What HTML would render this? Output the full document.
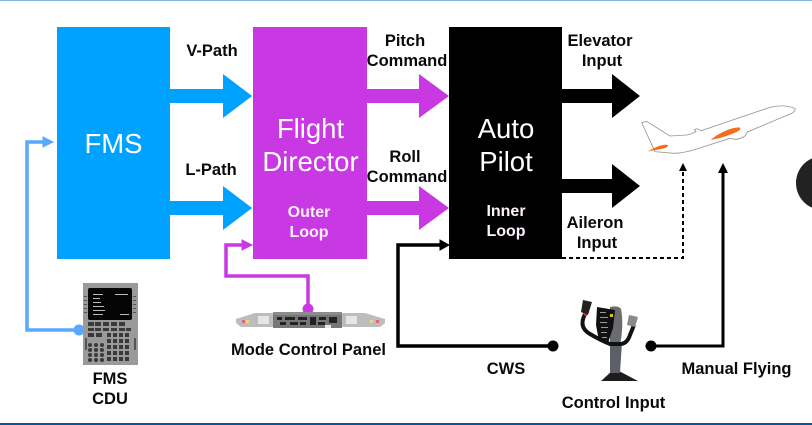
<!DOCTYPE html>
<html><head><meta charset="utf-8"><style>
html,body{margin:0;padding:0;background:#fff;width:812px;height:425px;overflow:hidden}
svg{display:block}
text{font-family:"Liberation Sans",sans-serif}
.b{font-weight:700;font-size:16.5px;fill:#0a0a0a;text-anchor:middle}
.w{font-weight:700;font-size:16px;fill:#fdf3fd;text-anchor:middle}
.t{font-size:27.500px;fill:#fff;text-anchor:middle}
</style></head><body>
<svg width="812" height="425" viewBox="0 0 812 425" xmlns="http://www.w3.org/2000/svg">
<rect width="812" height="425" fill="#fff"/>
<rect x="0" y="0" width="812" height="1" fill="#7fb6e2"/>
<rect x="0" y="423" width="812" height="2" fill="#0059a0"/>
<circle cx="823" cy="183" r="27" fill="#222"/>

<!-- boxes -->
<rect x="57" y="27" width="113" height="232" fill="#00a2ff"/>
<rect x="253" y="27" width="114" height="232" fill="#c939e3"/>
<rect x="449" y="27" width="113" height="232" fill="#000"/>

<!-- big arrows -->
<path d="M170 89H223V74L252 96L223 118V103H170Z" fill="#00a2ff"/>
<path d="M170 201H223V186L252 208L223 230V215H170Z" fill="#00a2ff"/>
<path d="M367 89H419V74L449 96L419 118V103H367Z" fill="#c939e3"/>
<path d="M367 201H419V186L449 208L419 230V215H367Z" fill="#c939e3"/>
<path d="M562 89H612V74L640 96L612 118V103H562Z" fill="#000"/>
<path d="M562 179H612V164L640 186L612 208V193H562Z" fill="#000"/>

<!-- connectors -->
<path d="M79 330H27V142H45" fill="none" stroke="#5aa9ff" stroke-width="3.5"/>
<path d="M43 137L53 142L43 147Z" fill="#5aa9ff" stroke="#5aa9ff"/>
<circle cx="79" cy="330" r="5.5" fill="#5aa9ff"/>
<path d="M308 308V276H226V245H244" fill="none" stroke="#c939e3" stroke-width="3.5"/>
<path d="M242 240L252 245L242 250Z" fill="#c939e3" stroke="#c939e3"/>
<circle cx="308" cy="309" r="5.5" fill="#c939e3"/>
<path d="M553 346H398V245H440" fill="none" stroke="#000" stroke-width="3.5"/>
<path d="M440 240L449 245L440 250Z" fill="#000" stroke="#000"/>
<circle cx="553" cy="346" r="5.5" fill="#000"/>
<path d="M651 346H723V172" fill="none" stroke="#000" stroke-width="3"/>
<path d="M718 173L723 163L728 173Z" fill="#000"/>
<circle cx="651" cy="346" r="5.5" fill="#000"/>
<path d="M562 258H683V170" fill="none" stroke="#000" stroke-width="2" stroke-dasharray="4 3"/>
<path d="M679 171L683 163L687 171Z" fill="#000"/>

<!-- plane -->
<g transform="translate(540 80) scale(.3333)">
<path d="M305 128L320 124L390 168L440 165Q456 162 468 155L463 149L470 146L484 152L690 82Q730 72 765 85Q768 92 755 100L622 156L615 168Q600 178 585 178L570 175L470 207Q430 220 400 220L345 215Z" fill="#fff" stroke="#959595" stroke-width="2.500"/>
<path d="M512 180C535 160 570 143 597 142C606 145 600 152 585 158C565 167 540 175 512 180Z" fill="#f46d1b"/>
<path d="M323 215L345 203C360 196 378 192 384 196C384 204 362 208 345 210Z" fill="#f46d1b"/>
</g>

<!-- FMS CDU -->
<rect x="83" y="283" width="55" height="82" fill="#9a9a9a"/>
<rect x="88" y="288" width="44" height="32" rx="2" fill="#050505"/>
<g fill="#bbb"><rect x="93" y="294" width="10" height="1"/><rect x="115" y="294" width="13" height="1"/><rect x="93" y="298" width="7" height="1"/><rect x="93" y="302" width="8" height="1"/><rect x="93" y="306" width="11" height="1"/><rect x="93" y="310" width="12" height="1"/><rect x="93" y="314" width="10" height="1"/><rect x="120" y="314" width="9" height="1"/></g>
<g fill="#555">
<rect x="84" y="296" width="3" height="1"/><rect x="84" y="300" width="3" height="1"/><rect x="84" y="304" width="3" height="1"/><rect x="84" y="308" width="3" height="1"/><rect x="84" y="312" width="3" height="1"/>
<rect x="133" y="296" width="3" height="1"/><rect x="133" y="300" width="3" height="1"/><rect x="133" y="304" width="3" height="1"/><rect x="133" y="308" width="3" height="1"/><rect x="133" y="312" width="3" height="1"/>
<rect x="85" y="338" width="2" height="12"/><rect x="134" y="338" width="2" height="12"/>
</g>
<g fill="#3a3a3a">
<rect x="88" y="322" width="6" height="4"/><rect x="95" y="322" width="6" height="4"/><rect x="103" y="322" width="6" height="4"/><rect x="111" y="322" width="6" height="4"/><rect x="119" y="322" width="6" height="4"/>
<rect x="88" y="328" width="6" height="3"/><rect x="95" y="328" width="6" height="3"/><rect x="103" y="328" width="6" height="3"/><rect x="111" y="328" width="6" height="3"/><rect x="119" y="328" width="6" height="3"/><rect x="126" y="328" width="5" height="3"/>
<rect x="88" y="333" width="6" height="4"/><rect x="96" y="333" width="6" height="4"/>
<rect x="107" y="333" width="4" height="4"/><rect x="113" y="333" width="4" height="4"/><rect x="119" y="333" width="4" height="4"/><rect x="125" y="333" width="4" height="4"/>
<rect x="107" y="339" width="4" height="4"/><rect x="113" y="339" width="4" height="4"/><rect x="119" y="339" width="4" height="4"/><rect x="125" y="339" width="4" height="4"/>
<rect x="107" y="345" width="4" height="4"/><rect x="113" y="345" width="4" height="4"/><rect x="119" y="345" width="4" height="4"/><rect x="125" y="345" width="4" height="4"/>
<rect x="107" y="351" width="4" height="4"/><rect x="113" y="351" width="4" height="4"/><rect x="119" y="351" width="4" height="4"/><rect x="125" y="351" width="4" height="4"/>
<rect x="107" y="357" width="4" height="4"/><rect x="113" y="357" width="4" height="4"/><rect x="119" y="357" width="4" height="4"/><rect x="125" y="357" width="4" height="4"/>
<circle cx="90" cy="345" r="2"/><circle cx="96" cy="345" r="2"/><circle cx="102" cy="345" r="2"/>
<circle cx="90" cy="350" r="2"/><circle cx="96" cy="350" r="2"/><circle cx="102" cy="350" r="2"/>
<circle cx="90" cy="355" r="2"/><circle cx="96" cy="355" r="2"/><circle cx="102" cy="355" r="2"/>
<circle cx="90" cy="360" r="2"/><circle cx="96" cy="360" r="2"/><circle cx="102" cy="360" r="2"/>
</g>

<!-- MCP -->
<path d="M236 319L255 313H365L385 319V323L380 327H241L236 323Z" fill="#bdbdbd"/>
<rect x="273" y="312" width="69" height="16" fill="#777"/>
<rect x="273" y="312" width="69" height="3" fill="#8c8c8c"/>
<g fill="#222"><rect x="277" y="317" width="5" height="3"/><rect x="285" y="317" width="10" height="3"/><rect x="298" y="317" width="9" height="3"/><rect x="310" y="317" width="6" height="8"/><rect x="319" y="317" width="7" height="3"/><rect x="329" y="317" width="8" height="6"/><rect x="280" y="322" width="6" height="3"/><rect x="290" y="322" width="8" height="3"/><rect x="300" y="322" width="6" height="3"/><rect x="318" y="322" width="7" height="3"/></g>
<rect x="325" y="325" width="6" height="3" fill="#e8e8e8"/>
<g fill="#e6e6e6"><rect x="258" y="316" width="11" height="8"/><rect x="346" y="316" width="11" height="8"/></g>
<rect x="242" y="320" width="3" height="3" fill="#d86a7a"/><rect x="246" y="320" width="3" height="3" fill="#e8d88a"/>
<rect x="370" y="320" width="3" height="3" fill="#e8d88a"/><rect x="376" y="320" width="3" height="3" fill="#d86a7a"/>

<!-- yoke -->
<path d="M601 381L612 371H619L638 381Z" fill="#1d1d1d"/>
<path d="M610 342H622L620 373H610Z" fill="#5c5f66"/>
<path d="M610 307Q618 305 621 309Q624 325 620 345H610Z" fill="#6a6c72"/>
<path d="M585 314C580 324 583 330 590 334Q600 340 610 344H620Q627 344 630 335L634 325" fill="none" stroke="#111" stroke-width="4"/>
<path d="M583 300L592 302L588 315L581 312Z" fill="#222"/>
<rect x="584" y="314" width="3" height="2" fill="#c22"/>
<path d="M629 315L638 317L635 327L627 325Z" fill="#8a8a8a"/>
<path d="M597 307L615 310L613 328L608 343L599 341L596 325Z" fill="#111"/>
<g fill="#999"><rect x="600" y="312" width="6" height="1"/><rect x="600" y="317" width="8" height="1"/><rect x="600" y="322" width="7" height="1"/><rect x="601" y="327" width="7" height="1"/><rect x="601" y="332" width="6" height="1"/><rect x="602" y="337" width="5" height="1"/></g>
<rect x="610" y="314" width="3" height="3" fill="#e8c020"/>

<!-- text -->
<text class="t" x="113.500" y="153">FMS</text>
<text class="t" x="310.500" y="138">Flight</text>
<text class="t" x="310.500" y="171">Director</text>
<text class="t" x="506" y="138">Auto</text>
<text class="t" x="506" y="171">Pilot</text>
<text class="w" x="309" y="217">Outer</text>
<text class="w" x="309" y="237">Loop</text>
<text class="w" x="506" y="216">Inner</text>
<text class="w" x="506" y="236">Loop</text>
<text class="b" x="212" y="56">V-Path</text>
<text class="b" x="211" y="175">L-Path</text>
<text class="b" x="405" y="46">Pitch</text>
<text class="b" x="407" y="66">Command</text>
<text class="b" x="405" y="162">Roll</text>
<text class="b" x="407" y="182">Command</text>
<text class="b" x="600" y="46">Elevator</text>
<text class="b" x="602" y="66">Input</text>
<text class="b" x="595" y="228">Aileron</text>
<text class="b" x="597" y="248">Input</text>
<text class="b" x="110" y="384">FMS</text>
<text class="b" x="110" y="404">CDU</text>
<text class="b" x="308.500" y="355">Mode Control Panel</text>
<text class="b" x="506" y="374">CWS</text>
<text class="b" x="613.500" y="408">Control Input</text>
<text class="b" x="736.500" y="374">Manual Flying</text>
</svg>
</body></html>
